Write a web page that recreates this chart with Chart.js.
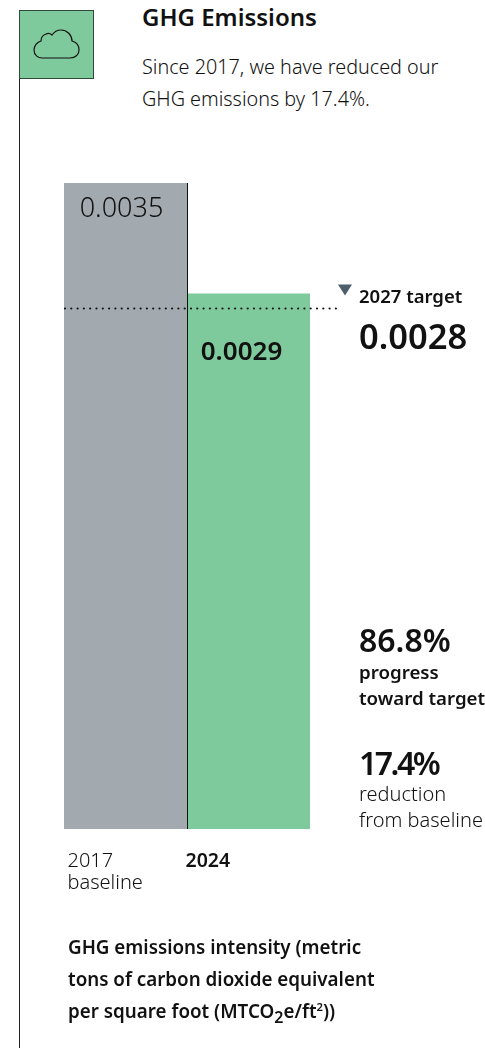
<!DOCTYPE html>
<html>
<head>
<meta charset="utf-8">
<title>GHG Emissions</title>
<script src="https://cdn.jsdelivr.net/npm/chart.js@4/dist/chart.umd.min.js"></script>
<style>
  html, body { margin: 0; padding: 0; background: #fff; }
  body { width: 485px; height: 1048px; position: relative; overflow: hidden; font-family: "Noto Sans", sans-serif; color: #111; }
  #main_graphic { position: absolute; left: 0; top: 0; }
  .rule { position: absolute; left: 19px; top: 78px; width: 1px; height: 970px; background: #222; }
  .icon { position: absolute; left: 19px; top: 10px; width: 73px; height: 67px; background: #7fca9c; border: 1px solid #2f4a3a; }
  .txt { position: absolute; white-space: nowrap; }
  .title { left: 142px; top: 4px; font-size: 24px; font-weight: 600; line-height: 26px; }
  .intro { left: 142px; top: 51px; font-size: 19.8px; font-weight: 300; line-height: 32px; }
  .target_l { left: 359px; top: 286px; font-size: 18.5px; font-weight: 600; line-height: 20px; }
  .target_v { left: 359px; top: 317px; font-size: 34.5px; font-weight: 600; line-height: 38px; }
  .big { font-size: 32px; font-weight: 600; line-height: 36px; left: 359px; }
  .small { font-size: 18.7px; line-height: 26px; left: 359px; }
  .foot { left: 68px; top: 931px; font-size: 18.8px; font-weight: 600; line-height: 32px; }
  sub { font-size: 85%; line-height: 0; }
  sup { font-size: 60%; line-height: 0; }
</style>
</head>
<body>
<div class="rule"></div>
<div class="icon">
  <svg width="73" height="67" viewBox="0 0 73 67" fill="none" stroke="#111" stroke-width="1.2">
    <path d="M22 47 H50 C56 47 59 43 59 39 C59 34 56 31 52 30 C52 24 47 19 41 19 C37 19 34 21 32 24 C30 22 28 22 26 23 C23 24 21 27 21 30 C17 31 14 35 14 39 C14 44 18 47 22 47 Z"/>
  </svg>
</div>
<div class="txt title">GHG Emissions</div>
<div class="txt intro">Since 2017, we have reduced our<br>GHG emissions by 17.4%.</div>
<canvas id="main_graphic" width="485" height="1048"></canvas>
<div class="txt target_l">2027 target</div>
<div class="txt target_v">0.0028</div>
<div class="txt big" style="top:622px">86.8%</div>
<div class="txt small" style="top:659px;font-weight:600">progress<br>toward target</div>
<div class="txt big" style="top:745px;letter-spacing:-2.5px">17.4%</div>
<div class="txt small" style="top:781px;font-weight:300;font-size:20px">reduction<br>from baseline</div>
<div class="txt foot">GHG emissions intensity (metric<br>tons of carbon dioxide equivalent<br>per square foot (MTCO<sub>2</sub>e/ft<sup>2</sup>))</div>
<script>
const anos = [['2017', 'baseline'], ['2024']]
const valores = [0.0035, 0.0029]
const rotulos = ['0.0035', '0.0029']
const cores = ['#a2aab0', '#7fca9c']
const meta = 0.00282

const linhas_plugin = {
  id: 'linhas',
  afterDatasetsDraw(chart) {
    const c = chart.ctx
    const x = chart.scales.x
    const y = chart.scales.y
    const meio = (x.getPixelForValue(0) + x.getPixelForValue(1)) / 2
    c.save()
    // divisor entre as barras
    c.strokeStyle = '#111'
    c.lineWidth = 1
    c.beginPath()
    c.moveTo(Math.round(meio) + 0.5, y.getPixelForValue(valores[0]))
    c.lineTo(Math.round(meio) + 0.5, y.getPixelForValue(0))
    c.stroke()
    // linha da meta
    const ym = y.getPixelForValue(meta)
    c.setLineDash([0, 6.3])
    c.lineCap = 'round'
    c.lineWidth = 2.2
    c.beginPath()
    c.moveTo(x.left + 1, ym)
    c.lineTo(x.right + 30, ym)
    c.stroke()
    c.setLineDash([])
    // triangulo da meta
    const xt = x.right + 35
    c.fillStyle = '#4d5f6b'
    c.beginPath()
    c.moveTo(xt - 7, ym - 24)
    c.lineTo(xt + 7, ym - 24)
    c.lineTo(xt, ym - 13)
    c.closePath()
    c.fill()
    // valores
    c.textAlign = 'center'
    c.textBaseline = 'middle'
    c.fillStyle = '#111'
    c.font = '300 27px "Noto Sans"'
    c.fillText(rotulos[0], x.getPixelForValue(0) - 4, y.getPixelForValue(valores[0]) + 26)
    c.font = '600 26px "Noto Sans"'
    c.fillText(rotulos[1], x.getPixelForValue(1) - 7, y.getPixelForValue(valores[1]) + 59)
    // anos, alinhados a esquerda em cada barra
    c.textAlign = 'left'
    c.font = '300 20px "Noto Sans"'
    anos[0].forEach((linha, i) => c.fillText(linha, x.getPixelForValue(0) - 58, y.bottom + 32 + i * 22))
    c.font = '600 19.5px "Noto Sans"'
    anos[1].forEach((linha, i) => c.fillText(linha, x.getPixelForValue(1) - 63, y.bottom + 32 + i * 22))
    c.restore()
  }
}

new Chart(document.getElementById('main_graphic'), {
  type: 'bar',
  data: {
    labels: anos,
    datasets: [{ data: valores, backgroundColor: cores, barPercentage: 1, categoryPercentage: 1 }]
  },
  options: {
    responsive: false,
    animation: false,
    layout: { padding: { left: 64, right: 175, top: 183, bottom: 211 } },
    plugins: { legend: { display: false }, tooltip: { enabled: false } },
    scales: {
      y: { display: false, min: 0, max: 0.0035 },
      x: {
        grid: { display: false },
        border: { display: false },
        ticks: { display: false }
      }
    }
  },
  plugins: [linhas_plugin]
})
</script>
</body>
</html>
